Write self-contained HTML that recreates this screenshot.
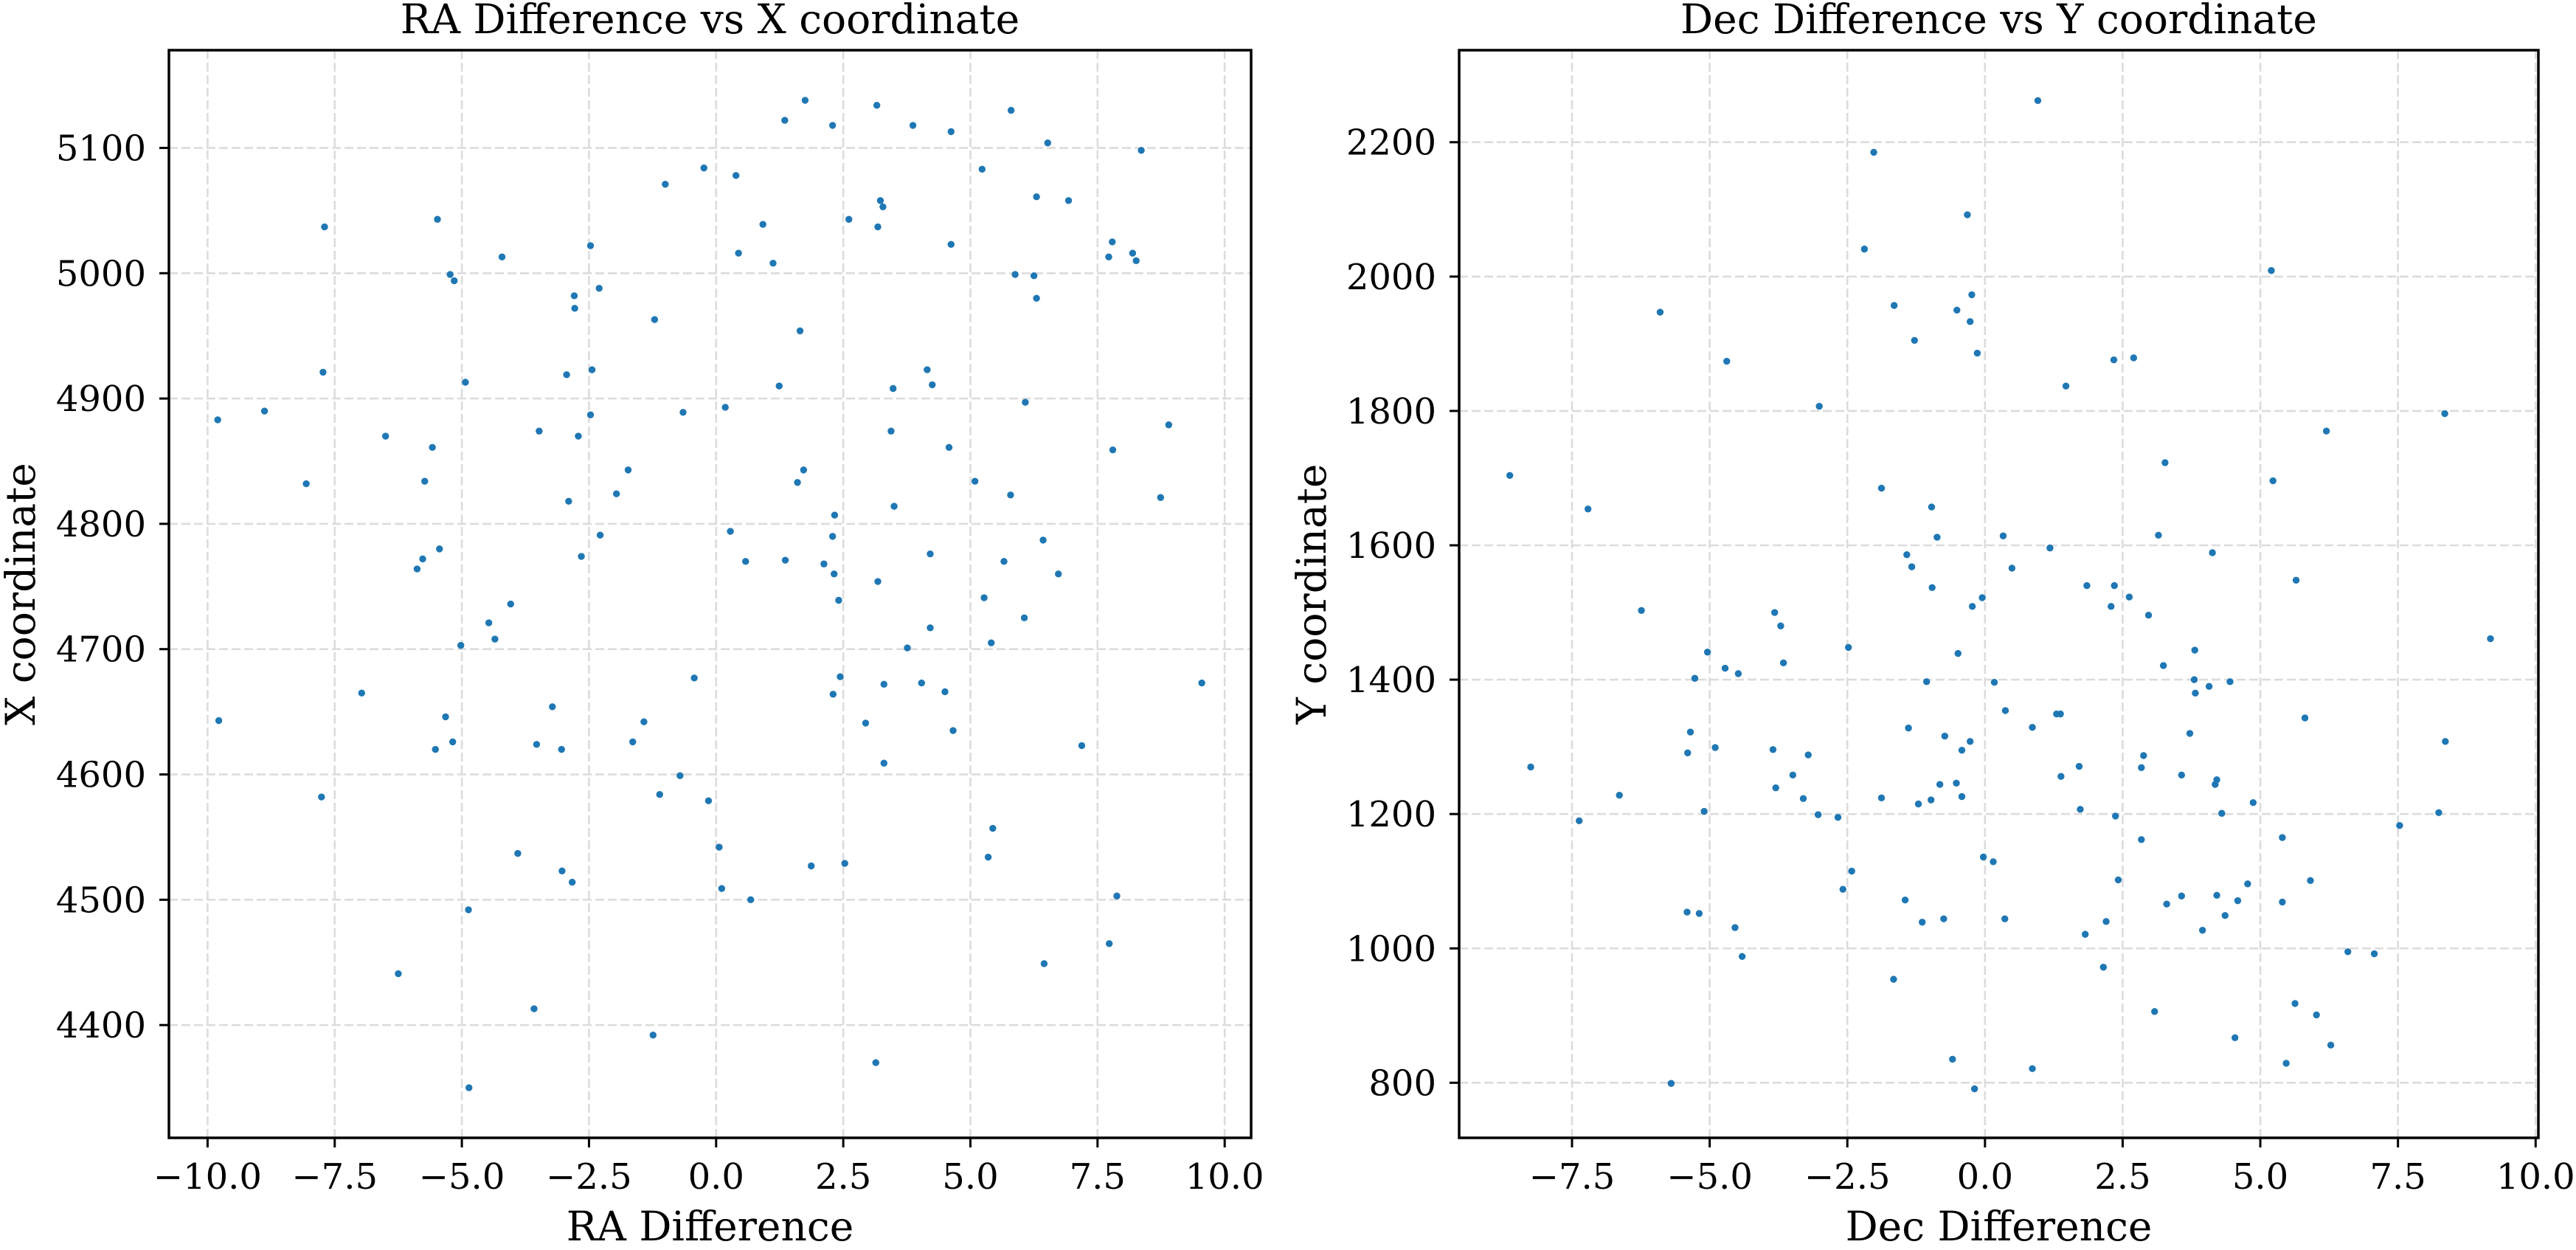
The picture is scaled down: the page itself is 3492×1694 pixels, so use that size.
<!DOCTYPE html>
<html><head><meta charset="utf-8"><style>
html,body{margin:0;padding:0;background:#fff;}
svg{display:block;}
text{font-family:"DejaVu Serif","Liberation Serif",serif;fill:#000;}
</style></head><body>
<svg id="fig" width="3492" height="1694" viewBox="0 0 3492 1694" xmlns="http://www.w3.org/2000/svg"></svg>
<script>
// Left panel data: RA difference vs X coordinate
const raDiff = [1.75,3.16,5.80,1.35,2.29,3.87,4.62,6.52,8.36,-0.24,5.23,0.39,-1.0,3.23,3.28,6.30,6.93,-7.70,-5.48,2.61,0.92,3.18,4.62,-2.47,7.79,7.72,8.19,8.26,0.44,1.12,-4.21,-5.23,-5.15,5.88,6.25,6.30,-2.30,-2.79,-2.78,-1.21,1.65,-7.73,-4.93,-2.94,-2.44,1.24,3.48,4.15,4.25,6.08,-9.80,-8.88,-2.47,-0.65,0.18,-6.50,-5.58,-3.48,-2.71,3.44,4.58,7.80,8.90,-1.73,1.72,1.60,-8.06,-5.73,-1.96,-2.90,5.09,5.79,8.74,3.50,2.33,2.29,0.28,-2.28,6.43,-5.44,-5.77,-5.88,-2.65,0.58,1.36,2.12,4.21,5.66,2.32,6.73,3.18,
-4.04,-4.47,-4.35,-5.02,2.41,5.27,6.06,4.21,5.41,3.76,-0.43,2.44,3.30,4.04,4.50,2.30,9.55,-6.97,-3.22,-9.78,-5.32,-5.52,-5.18,-1.42,-3.53,-3.04,-1.64,2.94,4.66,7.19,3.30,-0.71,-7.76,-1.11,-0.15,5.44,5.35,0.06,-3.90,-3.03,-2.83,1.87,2.53,0.11,0.68,7.88,-4.87,7.73,6.45,-6.25,-3.58,-1.24,3.14,-4.86];
const xCoord = [5138,5134,5130,5122,5118,5118,5113,5104,5098,5084,5083,5078,5071,5058,5053,5061,5058,5037,5043,5043,5039,5037,5023,5022,5025,5013,5016,5010,5016,5008,5013,4999,4994,4999,4998,4980,4988,4982,4972,4963,4954,4921,4913,4919,4923,4910,4908,4923,4911,4897,4883,4890,4887,4889,4893,4870,4861,4874,4870,4874,4861,4859,4879,4843,4843,4833,4832,4834,4824,4818,4834,4823,4821,4814,4807,4790,4794,4791,4787,4780,4772,4764,4774,4770,4771,4768,4776,4770,4760,4760,4754,
4736,4721,4708,4703,4739,4741,4725,4717,4705,4701,4677,4678,4672,4673,4666,4664,4673,4665,4654,4643,4646,4620,4626,4642,4624,4620,4626,4641,4635,4623,4609,4599,4582,4584,4579,4557,4534,4542,4537,4523,4514,4527,4529,4509,4500,4503,4492,4465,4449,4441,4413,4392,4370,4350];
// Right panel data: Dec difference vs Y coordinate
const decDiff = [0.96,-2.02,-0.32,-2.19,5.20,-0.24,-1.65,-0.51,-5.90,-0.27,-1.28,-0.14,-4.69,2.34,2.70,1.47,-3.01,8.35,6.20,3.27,-8.63,5.23,-1.88,-7.21,-0.97,-0.87,0.33,3.15,1.18,-1.42,4.13,-1.33,0.49,5.65,-0.96,1.85,2.35,
-0.05,-0.23,2.29,2.62,2.97,-6.24,-3.82,-3.71,9.18,-5.04,-2.48,-0.49,3.81,-3.66,-4.72,-4.48,3.24,-5.27,-1.06,0.17,3.80,4.07,4.45,3.82,0.37,1.30,1.37,5.81,0.86,-1.39,-5.35,3.72,-0.73,-0.27,8.36,-4.9,-5.4,-3.85,-3.21,-0.42,2.88,-8.25,1.71,2.84,-3.49,1.38,3.57,4.21,4.18,-0.82,-0.52,-3.80,-6.64,-3.30,-1.88,-1.21,-0.98,-0.42,4.87,-5.10,1.73,-7.37,-3.03,-2.67,2.37,4.30,8.24,7.53,2.84,5.40,-0.03,0.15,-2.42,2.42,5.91,4.77,-2.58,-1.45,3.57,4.21,4.59,5.40,3.30,-5.41,-5.19,-1.14,-0.75,0.36,2.20,4.36,-4.54,1.82,3.95,6.59,7.07,-4.41,2.15,-1.66,5.63,3.08,6.02,4.54,6.28,-0.59,0.86,5.47,-5.70,-0.19];
const yCoord = [2262,2185,2092,2041,2009,1973,1957,1950,1947,1933,1905,1886,1874,1876,1879,1837,1807,1796,1770,1723,1704,1696,1685,1654,1657,1612,1614,1615,1596,1586,1589,1568,1566,1548,1537,1540,1540,
1522,1509,1509,1523,1496,1503,1500,1480,1461,1441,1448,1439,1444,1425,1417,1409,1421,1402,1397,1396,1400,1390,1397,1380,1354,1349,1349,1343,1329,1328,1322,1320,1316,1308,1308,1299,1291,1296,1288,1295,1287,1270,1271,1269,1258,1256,1258,1251,1244,1244,1246,1239,1228,1223,1224,1215,1221,1226,1217,1204,1207,1190,1199,1195,1197,1201,1202,1183,1162,1165,1136,1129,1115,1102,1101,1096,1088,1072,1078,1079,1071,1069,1066,1054,1052,1039,1044,1044,1040,1049,1031,1021,1027,995,992,988,972,954,918,906,901,867,856,835,821,829,799,791];
const xTicks = [-10,-7.5,-5,-2.5,0,2.5,5,7.5,10];
const xTickLabels = ["−10.0","−7.5","−5.0","−2.5","0.0","2.5","5.0","7.5","10.0"];
const leftYTicks = [4400,4500,4600,4700,4800,4900,5000,5100];
const rightYTicks = [800,1000,1200,1400,1600,1800,2000,2200];

const NS = "http://www.w3.org/2000/svg";
const svg = document.getElementById('fig');
function mk(tag, attrs, parent){
  const e = document.createElementNS(NS, tag);
  for (const k in attrs) e.setAttribute(k, attrs[k]);
  (parent||svg).appendChild(e);
  return e;
}
function panel(p){
  const g = mk('g', {});
  
  
  const sx = v => p.x0 + (v - p.xmin) / (p.xmax - p.xmin) * (p.x1 - p.x0);
  const sy = v => p.y1 - (v - p.ymin) / (p.ymax - p.ymin) * (p.y1 - p.y0);
  // grid
  p.xt.forEach((t,i) => {
    const x = sx(t); if (x < p.x0 || x > p.x1) return;
    const l = mk('line', {x1:x, x2:x, y1:p.y0, y2:p.y1, stroke:'#dcdcdc', 'stroke-width':2.6, 'stroke-dasharray':'12 5'}, g);
    
    
  });
  p.yt.forEach(t => {
    const y = sy(t);
    const l = mk('line', {x1:p.x0, x2:p.x1, y1:y, y2:y, stroke:'#dcdcdc', 'stroke-width':2.6, 'stroke-dasharray':'12 5'}, g);
    
    
  });
  // points
  p.xs.forEach((v,i) => {
    const c = mk('circle', {cx:sx(v), cy:sy(p.ys[i]), r:4.7, fill:'#1f77b4'}, g);
    
    
  });
  // spines
  const r = mk('rect', {x:p.x0, y:p.y0, width:p.x1-p.x0, height:p.y1-p.y0, fill:'none', stroke:'#000', 'stroke-width':3.5}, g);
  
  
  // x ticks
  p.xt.forEach((t,i) => {
    const x = sx(t); if (x < p.x0 || x > p.x1) return;
    mk('line', {x1:x, x2:x, y1:p.y1, y2:p.y1+13, stroke:'#000', 'stroke-width':3}, g);
    const tx = mk('text', {x:x, y:p.y1+69, 'font-size':48, 'text-anchor':'middle'}, g);
    tx.textContent = xTickLabels[i];
    
    
  });
  p.yt.forEach(t => {
    const y = sy(t);
    mk('line', {x1:p.x0-13, x2:p.x0, y1:y, y2:y, stroke:'#000', 'stroke-width':3}, g);
    const tx = mk('text', {x:p.x0-31, y:y+17, 'font-size':48, 'text-anchor':'end'}, g);
    tx.textContent = String(t);
    
    
  });
  const cx = (p.x0+p.x1)/2, cy = (p.y0+p.y1)/2;
  const ti = mk('text', {x:cx, y:45, 'font-size':55, 'text-anchor':'middle'}, g);
  ti.textContent = p.title;
  
  
  const xl = mk('text', {x:cx, y:1681, 'font-size':55, 'text-anchor':'middle'}, g);
  xl.textContent = p.xlabel;
  
  
  const yl = mk('text', {x:0, y:0, 'font-size':55, 'text-anchor':'middle', transform:`translate(${p.ylx},${cy}) rotate(-90)`}, g);
  yl.textContent = p.ylabel;
  
  
}
panel({name:'ra-panel', x0:229, x1:1696, y0:68, y1:1542, xmin:-10.76, xmax:10.52, ymin:4310, ymax:5178,
  xs:raDiff, ys:xCoord, xt:xTicks, yt:leftYTicks, title:'RA Difference vs X coordinate', xlabel:'RA Difference', ylabel:'X coordinate', ylx:47});
panel({name:'dec-panel', x0:1978, x1:3441, y0:68, y1:1542, xmin:-9.55, xmax:10.05, ymin:718, ymax:2337,
  xs:decDiff, ys:yCoord, xt:xTicks, yt:rightYTicks, title:'Dec Difference vs Y coordinate', xlabel:'Dec Difference', ylabel:'Y coordinate', ylx:1797});
</script>
</body></html>
